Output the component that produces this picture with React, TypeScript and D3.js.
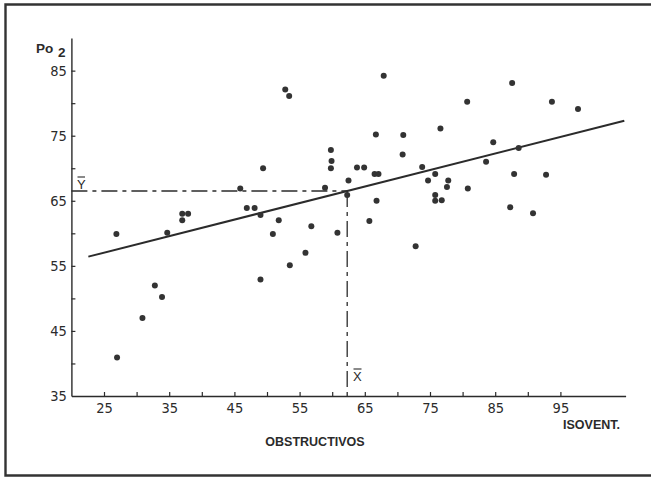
import React, { useEffect, useRef } from "react";
import * as d3 from "d3";

// Isovent (x) vs Po2 (y), obstructive patients
const isoVent = [
  26.9, 27.0, 30.9, 32.8, 33.9, 34.7, 37.0, 37.0, 37.9, 45.9,
  46.9, 48.1, 49.0, 49.0, 49.4, 50.9, 51.8, 52.8, 53.4, 53.5,
  55.9, 56.8, 58.9, 59.8, 59.9, 59.8, 60.8, 62.5, 62.3, 63.8,
  64.9, 65.7, 66.5, 67.1, 66.7, 66.8, 67.9, 70.8, 70.9, 72.8,
  73.8, 74.7, 75.8, 75.8, 75.8, 76.8, 76.6, 77.6, 77.8, 80.7,
  80.8, 83.6, 84.7, 87.3, 87.6, 87.9, 88.6, 90.8, 92.8, 93.7,
  97.7
];
const po2 = [
  59.9, 40.9, 47.0, 52.0, 50.2, 60.1, 62.0, 63.0, 63.0, 66.9,
  63.9, 63.9, 62.8, 52.9, 70.0, 59.9, 62.0, 82.1, 81.1, 55.1,
  57.0, 61.1, 67.0, 72.8, 71.1, 70.0, 60.1, 68.1, 65.9, 70.1,
  70.1, 61.9, 69.1, 69.1, 75.2, 65.0, 84.2, 72.1, 75.1, 58.0,
  70.2, 68.1, 69.1, 65.9, 65.0, 65.1, 76.1, 67.1, 68.1, 80.2,
  66.9, 71.0, 74.0, 64.0, 83.1, 69.1, 73.1, 63.1, 69.0, 80.2,
  79.1
];

const xTicks = [25, 30, 35, 40, 45, 50, 55, 60, 65, 70, 75, 80, 85, 90, 95];
const xLabels = [25, 35, 45, 55, 65, 75, 85, 95];
const yTicks = [35, 40, 45, 50, 55, 60, 65, 70, 75, 80, 85];
const yLabels = [35, 45, 55, 65, 75, 85];

// means and regression line
const meanX = 62.3;
const meanY = 66.5;
const slope = 0.254;
const lineRange = [22.6, 104.8];

const W = 651;
const H = 478;
const ink = "#2b2b2b";
const narrow = "'Liberation Sans Narrow', 'DejaVu Sans Condensed', sans-serif";
const sans = "'Liberation Sans', Arial, sans-serif";

const App = () => {
  const svgEl = useRef<SVGSVGElement | null>(null);

  useEffect(() => {
    if (!svgEl.current) return;
    drawChart(svgEl.current);
  }, []);

  return (
    <svg
      ref={svgEl}
      width={W}
      height={H}
      style={{ position: "absolute", left: 0, top: 0, background: "#fff" }}
    />
  );
};

function drawChart(el: SVGSVGElement) {
  const svg = d3.select(el);
  svg.selectAll("*").remove();

  const x = d3.scaleLinear().domain([20, 105]).range([71.4, 625.6]);
  const y = d3.scaleLinear().domain([35, 90]).range([396, 38.1]);

  // frame (top, left, bottom)
  svg
    .append("path")
    .attr("d", `M${W + 2},4.5 L5.5,4.5 L5.5,475.5 L${W + 2},475.5`)
    .attr("fill", "none")
    .attr("stroke", "#333")
    .attr("stroke-width", 2.4);

  // x axis
  const xAxis = svg
    .append("g")
    .attr("transform", `translate(0,${y(35)})`)
    .call(
      d3
        .axisBottom(x)
        .tickValues(xTicks)
        .tickSizeInner(-4)
        .tickSizeOuter(0)
        .tickPadding(7)
        .tickFormat((d) => (xLabels.includes(+d) ? String(d) : ""))
    );

  // y axis
  const yAxis = svg
    .append("g")
    .attr("transform", `translate(${x(20)},0)`)
    .call(
      d3
        .axisLeft(y)
        .tickValues(yTicks)
        .tickSizeInner(-4)
        .tickSizeOuter(0)
        .tickPadding(4.5)
        .tickFormat((d) => (yLabels.includes(+d) ? String(d) : ""))
    );

  [xAxis, yAxis].forEach((g) => {
    g.select(".domain").attr("stroke", ink).attr("stroke-width", 1.4);
    g.selectAll(".tick line").attr("stroke", ink).attr("stroke-width", 1.2);
    g.selectAll(".tick text")
      .attr("fill", ink)
      .attr("font-family", narrow)
      .attr("font-size", 14.5);
  });
  yAxis.selectAll(".tick").filter((d) => +d === 35).select("line").remove();

  // mean lines
  const dash = "16,5,4,5";
  svg
    .append("line")
    .attr("x1", x(20))
    .attr("x2", x(meanX))
    .attr("y1", y(meanY))
    .attr("y2", y(meanY))
    .attr("stroke", ink)
    .attr("stroke-width", 1.3)
    .attr("stroke-dasharray", dash);
  svg
    .append("line")
    .attr("x1", x(meanX))
    .attr("x2", x(meanX))
    .attr("y1", y(meanY))
    .attr("y2", y(35))
    .attr("stroke", ink)
    .attr("stroke-width", 1.3)
    .attr("stroke-dasharray", dash);

  // regression line
  const reg = d3
    .line<number>()
    .x((d) => x(d))
    .y((d) => y(meanY + slope * (d - meanX)));
  svg
    .append("path")
    .attr("d", reg(lineRange))
    .attr("fill", "none")
    .attr("stroke", ink)
    .attr("stroke-width", 2);

  // points
  svg
    .append("g")
    .selectAll("circle")
    .data(isoVent)
    .enter()
    .append("circle")
    .attr("cx", (d) => x(d))
    .attr("cy", (d, i) => y(po2[i]))
    .attr("r", 3)
    .attr("fill", "#333");

  // labels
  const label = (txt: string, tx: number, ty: number, size: number, anchor = "start") =>
    svg
      .append("text")
      .attr("x", tx)
      .attr("y", ty)
      .attr("text-anchor", anchor)
      .attr("font-family", sans)
      .attr("font-size", size)
      .attr("fill", ink)
      .text(txt);

  label("Po", 36, 53, 13.5).attr("font-weight", 600);
  label("2", 58, 57, 13.5).attr("font-weight", 600);
  label("OBSTRUCTIVOS", 315, 446, 12.5, "middle").attr("font-weight", 600);
  label("ISOVENT.", 620, 429, 12.5, "end").attr("font-weight", 600);

  // Ybar and Xbar
  label("Y", 77, 189, 13);
  svg
    .append("line")
    .attr("x1", 77.5)
    .attr("x2", 85)
    .attr("y1", 177)
    .attr("y2", 177)
    .attr("stroke", ink)
    .attr("stroke-width", 1.1);
  label("X", 353, 381, 13);
  svg
    .append("line")
    .attr("x1", 353.5)
    .attr("x2", 361.5)
    .attr("y1", 369)
    .attr("y2", 369)
    .attr("stroke", ink)
    .attr("stroke-width", 1.1);
}

export default App;
